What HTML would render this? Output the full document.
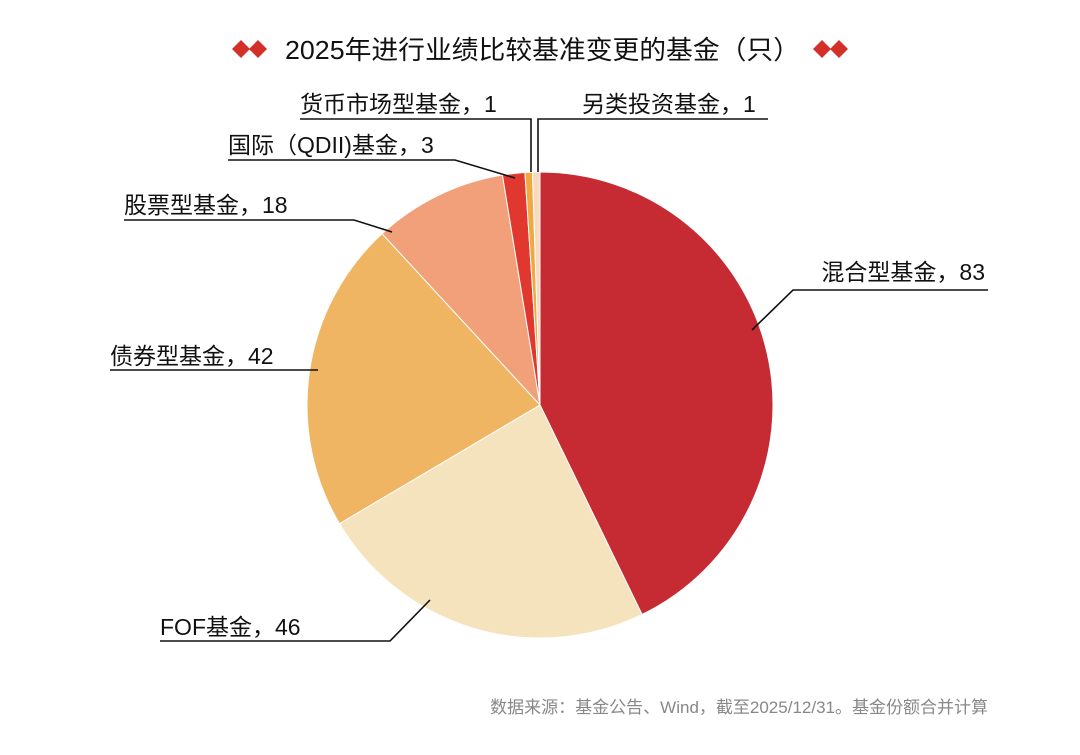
<!DOCTYPE html>
<html><head><meta charset="utf-8"><style>
body{margin:0;background:#fff;}
svg text{font-family:"Liberation Sans","Noto Sans CJK SC",sans-serif;}
</style></head><body>
<svg id="c" width="1080" height="750" viewBox="0 0 1080 750">
<g>
 <path d="M232 49 l9 -9 l9 9 l-9 9z M249 49 l9 -9 l9 9 l-9 9z" fill="#d3302a"/>
 <text x="285" y="59" font-size="26" textLength="515" lengthAdjust="spacingAndGlyphs" fill="#111">2025年进行业绩比较基准变更的基金（只）</text>
 <path d="M813 49 l9 -9 l9 9 l-9 9z M830 49 l9 -9 l9 9 l-9 9z" fill="#d3302a"/>
</g>
<g id="slices"></g>
<g id="leaders" fill="none" stroke="#111" stroke-width="1.6">
 <polyline points="752,330 793,290 988,290"/>
 <polyline points="430,600 390,641 160,641"/>
 <polyline points="318,370 110,370"/>
 <polyline points="392,232 354,220 124,220"/>
 <polyline points="515,178 455,160 228,160"/>
 <polyline points="531,172 531,119 300,119"/>
 <polyline points="538,172 538,119 768,119"/>
</g>
<g font-size="23" fill="#111">
 <text x="985" y="280" text-anchor="end">混合型基金，83</text>
 <text x="160" y="635">FOF基金，46</text>
 <text x="110" y="364">债券型基金，42</text>
 <text x="124" y="213">股票型基金，18</text>
 <text x="228" y="153">国际（QDII)基金，3</text>
 <text x="300" y="112">货币市场型基金，1</text>
 <text x="582" y="112">另类投资基金，1</text>
</g>
<text x="988" y="713" text-anchor="end" font-size="17" fill="#888">数据来源：基金公告、Wind，截至2025/12/31。基金份额合并计算</text>
</svg>
<script>
const categories=["混合型基金","FOF基金","债券型基金","股票型基金","国际（QDII)基金","货币市场型基金","另类投资基金"];
const values=[83,46,42,18,3,1,1];
const colors=["#c62a33","#f5e3bd","#f0b562","#f2a07a","#e0382e","#f0a840","#f7d9bd"];
const cx=540,cy=405,r=233;
const g=document.getElementById('slices');
const total=values.reduce((a,b)=>a+b,0);
let a0=0;
values.forEach((v,i)=>{
 const a1=a0+v/total*2*Math.PI;
 const p=(a)=>[cx+r*Math.sin(a),cy-r*Math.cos(a)];
 const [x0,y0]=p(a0),[x1,y1]=p(a1);
 const large=(a1-a0)>Math.PI?1:0;
 const el=document.createElementNS('http://www.w3.org/2000/svg','path');
 el.setAttribute('d',`M${cx},${cy} L${x0},${y0} A${r},${r} 0 ${large} 1 ${x1},${y1} Z`);
 el.setAttribute('fill',colors[i]);
 el.setAttribute('stroke','#fff');
 el.setAttribute('stroke-width','1');
 
 
 g.appendChild(el);
 a0=a1;
});
</script>
</body></html>
